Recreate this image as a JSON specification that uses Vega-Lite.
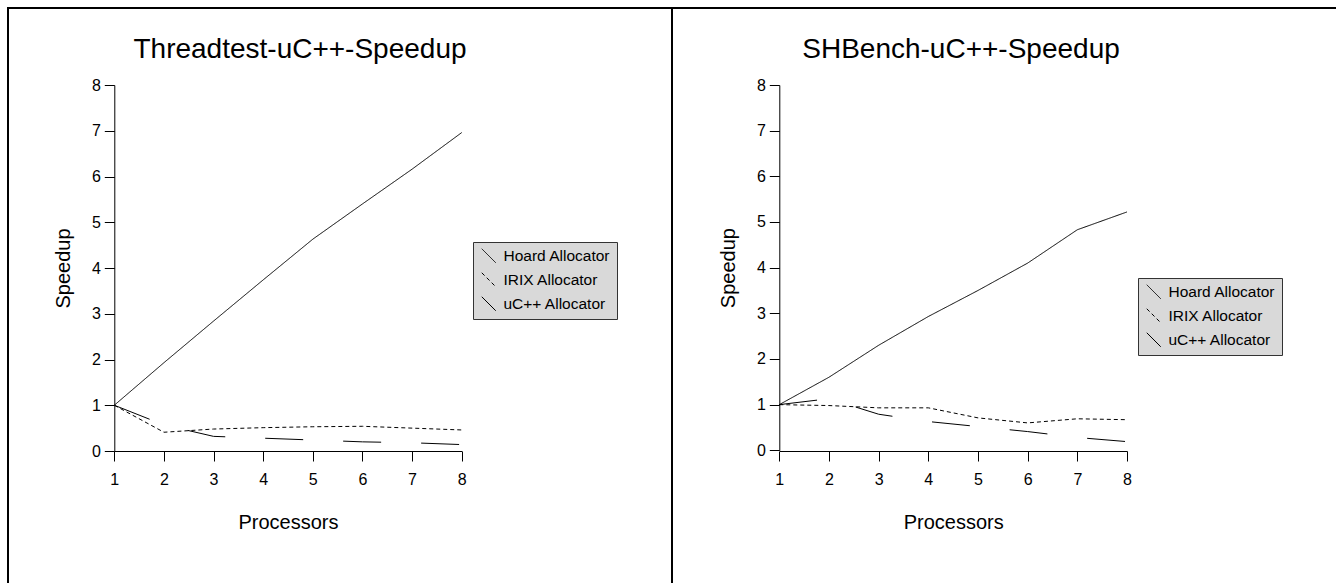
{
  "$schema": "https://vega.github.io/schema/vega-lite/v6.json",
  "padding": {"left": 7, "top": 7, "right": 0, "bottom": 0},
  "background": "white",
  "config": {
    "font": "Liberation Sans",
    "view": {"stroke": "black", "strokeWidth": 2},
    "axis": {"grid": false, "domainColor": "black", "tickColor": "black", "labelColor": "black", "titleColor": "black", "labelFontSize": 16, "titleFontSize": 20, "titleFontWeight": "normal", "tickSize": 10, "domainWidth": 1, "tickWidth": 1, "labelFlush": false, "labelOverlap": false},
    "legend": {"labelFontSize": 15.5, "labelColor": "black"},
    "title": {"fontSize": 28, "fontWeight": "normal", "color": "black"}
  },
  "datasets": {
    "threadtest": [
      {"proc": 1, "speedup": 1, "allocator": "Hoard Allocator"},
      {"proc": 2, "speedup": 1.93, "allocator": "Hoard Allocator"},
      {"proc": 3, "speedup": 2.84, "allocator": "Hoard Allocator"},
      {"proc": 4, "speedup": 3.74, "allocator": "Hoard Allocator"},
      {"proc": 5, "speedup": 4.63, "allocator": "Hoard Allocator"},
      {"proc": 6, "speedup": 5.4, "allocator": "Hoard Allocator"},
      {"proc": 7, "speedup": 6.16, "allocator": "Hoard Allocator"},
      {"proc": 8, "speedup": 6.96, "allocator": "Hoard Allocator"},
      {"proc": 1, "speedup": 1, "allocator": "IRIX Allocator"},
      {"proc": 2, "speedup": 0.41, "allocator": "IRIX Allocator"},
      {"proc": 3, "speedup": 0.48, "allocator": "IRIX Allocator"},
      {"proc": 4, "speedup": 0.51, "allocator": "IRIX Allocator"},
      {"proc": 5, "speedup": 0.53, "allocator": "IRIX Allocator"},
      {"proc": 6, "speedup": 0.54, "allocator": "IRIX Allocator"},
      {"proc": 7, "speedup": 0.5, "allocator": "IRIX Allocator"},
      {"proc": 8, "speedup": 0.46, "allocator": "IRIX Allocator"},
      {"proc": 1, "speedup": 1, "allocator": "uC++ Allocator"},
      {"proc": 2, "speedup": 0.57, "allocator": "uC++ Allocator"},
      {"proc": 3, "speedup": 0.32, "allocator": "uC++ Allocator"},
      {"proc": 4, "speedup": 0.28, "allocator": "uC++ Allocator"},
      {"proc": 5, "speedup": 0.24, "allocator": "uC++ Allocator"},
      {"proc": 6, "speedup": 0.2, "allocator": "uC++ Allocator"},
      {"proc": 7, "speedup": 0.18, "allocator": "uC++ Allocator"},
      {"proc": 8, "speedup": 0.14, "allocator": "uC++ Allocator"}
    ],
    "shbench": [
      {"proc": 1, "speedup": 1, "allocator": "Hoard Allocator"},
      {"proc": 2, "speedup": 1.6, "allocator": "Hoard Allocator"},
      {"proc": 3, "speedup": 2.3, "allocator": "Hoard Allocator"},
      {"proc": 4, "speedup": 2.93, "allocator": "Hoard Allocator"},
      {"proc": 5, "speedup": 3.5, "allocator": "Hoard Allocator"},
      {"proc": 6, "speedup": 4.1, "allocator": "Hoard Allocator"},
      {"proc": 7, "speedup": 4.83, "allocator": "Hoard Allocator"},
      {"proc": 8, "speedup": 5.22, "allocator": "Hoard Allocator"},
      {"proc": 1, "speedup": 1, "allocator": "IRIX Allocator"},
      {"proc": 2, "speedup": 0.98, "allocator": "IRIX Allocator"},
      {"proc": 3, "speedup": 0.93, "allocator": "IRIX Allocator"},
      {"proc": 4, "speedup": 0.93, "allocator": "IRIX Allocator"},
      {"proc": 5, "speedup": 0.71, "allocator": "IRIX Allocator"},
      {"proc": 6, "speedup": 0.6, "allocator": "IRIX Allocator"},
      {"proc": 7, "speedup": 0.69, "allocator": "IRIX Allocator"},
      {"proc": 8, "speedup": 0.67, "allocator": "IRIX Allocator"},
      {"proc": 1, "speedup": 1, "allocator": "uC++ Allocator"},
      {"proc": 2, "speedup": 1.13, "allocator": "uC++ Allocator"},
      {"proc": 3, "speedup": 0.79, "allocator": "uC++ Allocator"},
      {"proc": 4, "speedup": 0.63, "allocator": "uC++ Allocator"},
      {"proc": 5, "speedup": 0.52, "allocator": "uC++ Allocator"},
      {"proc": 6, "speedup": 0.41, "allocator": "uC++ Allocator"},
      {"proc": 7, "speedup": 0.28, "allocator": "uC++ Allocator"},
      {"proc": 8, "speedup": 0.19, "allocator": "uC++ Allocator"}
    ]
  },
  "spacing": 0,
  "bounds": "flush",
  "resolve": {"scale": {"strokeDash": "independent"}, "legend": {"strokeDash": "independent"}},
  "hconcat": [
    {
      "width": 664,
      "height": 600,
      "title": {"text": "Threadtest-uC++-Speedup", "anchor": "middle", "offset": -78, "dx": -40, "baseline": "alphabetic"},
      "data": {"name": "threadtest"},
      "mark": {"type": "line", "color": "black", "strokeWidth": 1},
      "encoding": {
        "x": {"field": "proc", "type": "quantitative",
          "scale": {"domain": [1, 8], "range": [106.3, 453.7], "nice": false, "zero": false},
          "axis": {"orient": "bottom", "offset": -157, "values": [1, 1.5, 2, 2.5, 3, 3.5, 4, 4.5, 5, 5.5, 6, 6.5, 7, 7.5, 8], "format": "d", "labelExpr": "datum.value % 1 == 0 ? datum.label : ''", "labelPadding": 10, "title": "Processors", "titlePadding": 25}},
        "y": {"field": "speedup", "type": "quantitative",
          "scale": {"domain": [0, 8], "range": [443, 77], "nice": false, "zero": false},
          "axis": {"orient": "left", "offset": -106.3, "values": [0, 1, 2, 3, 4, 5, 6, 7, 8], "format": "d", "labelPadding": 4, "title": "Speedup", "titlePadding": 18}},
        "strokeDash": {"field": "allocator", "type": "nominal",
          "scale": {"domain": ["Hoard Allocator", "IRIX Allocator", "uC++ Allocator"], "range": [[1, 0], [4, 3], [38, 40]]},
          "legend": {"orient": "none", "legendX": 465, "legendY": 234, "title": null, "fillColor": "#d9d9d9", "strokeColor": "#333333", "padding": 6, "symbolType": "M-1,-1L1,1", "symbolSize": 196, "symbolStrokeColor": "black", "symbolStrokeWidth": 1, "symbolFillColor": "transparent", "symbolOffset": 2, "labelOffset": 7, "rowPadding": 5}}
      }
    },
    {
      "width": 700,
      "height": 600,
      "title": {"text": "SHBench-uC++-Speedup", "anchor": "middle", "offset": -78, "dx": -61, "baseline": "alphabetic"},
      "data": {"name": "shbench"},
      "mark": {"type": "line", "color": "black", "strokeWidth": 1},
      "encoding": {
        "x": {"field": "proc", "type": "quantitative",
          "scale": {"domain": [1, 8], "range": [107.3, 455], "nice": false, "zero": false},
          "axis": {"orient": "bottom", "offset": -157, "values": [1, 1.5, 2, 2.5, 3, 3.5, 4, 4.5, 5, 5.5, 6, 6.5, 7, 7.5, 8], "format": "d", "labelExpr": "datum.value % 1 == 0 ? datum.label : ''", "labelPadding": 10, "title": "Processors", "titlePadding": 25}},
        "y": {"field": "speedup", "type": "quantitative",
          "scale": {"domain": [0, 8], "range": [442.3, 77], "nice": false, "zero": false},
          "axis": {"orient": "left", "offset": -107.3, "values": [0, 1, 2, 3, 4, 5, 6, 7, 8], "format": "d", "labelPadding": 4, "title": "Speedup", "titlePadding": 18}},
        "strokeDash": {"field": "allocator", "type": "nominal",
          "scale": {"domain": ["Hoard Allocator", "IRIX Allocator", "uC++ Allocator"], "range": [[1, 0], [4, 3], [38, 40]]},
          "legend": {"orient": "none", "legendX": 466, "legendY": 270, "title": null, "fillColor": "#d9d9d9", "strokeColor": "#333333", "padding": 6, "symbolType": "M-1,-1L1,1", "symbolSize": 196, "symbolStrokeColor": "black", "symbolStrokeWidth": 1, "symbolFillColor": "transparent", "symbolOffset": 2, "labelOffset": 7, "rowPadding": 5}}
      }
    }
  ]
}
